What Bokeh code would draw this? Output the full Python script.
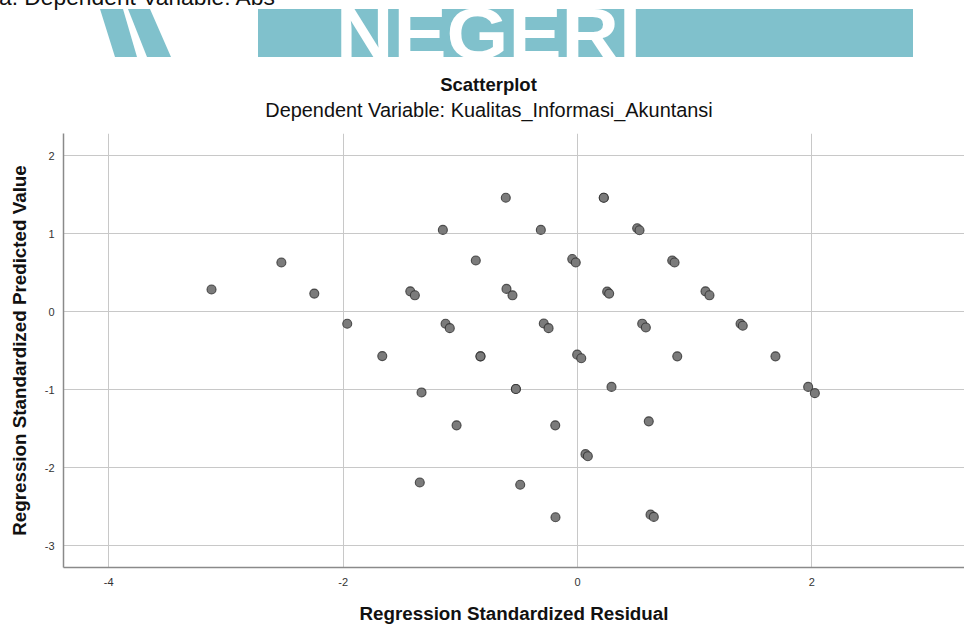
from bokeh.plotting import figure
from bokeh.models import ColumnDataSource, FixedTicker, Range1d, Div
from bokeh.layouts import column
from bokeh.embed import file_html
from bokeh.resources import INLINE

# Regression Standardized Residual (x) vs Regression Standardized Predicted Value (y)
residual = [-3.123, -2.527, -2.246, -1.965, -1.666, -1.427, -1.388, -1.331, -1.346,
            -1.149, -1.126, -1.090, -1.032, -0.868, -0.828, -0.828, -0.612, -0.606,
            -0.555, -0.526, -0.526, -0.489, -0.313, -0.288, -0.247, -0.190, -0.188,
            -0.045, -0.015, -0.003, 0.032, 0.068, 0.088, 0.224, 0.224, 0.253, 0.270,
            0.290, 0.509, 0.529, 0.552, 0.583, 0.608, 0.623, 0.651, 0.808, 0.828,
            0.851, 1.092, 1.126, 1.391, 1.410, 1.689, 1.968, 2.025]
predicted = [0.287, 0.633, 0.234, -0.153, -0.568, 0.263, 0.212, -1.034, -2.189,
             1.051, -0.153, -0.209, -1.456, 0.659, -0.571, -0.571, 1.464, 0.294,
             0.212, -0.990, -0.990, -2.218, 1.051, -0.149, -0.209, -1.456, -2.636,
             0.677, 0.633, -0.549, -0.596, -1.826, -1.852, 1.464, 1.464, 0.259, 0.234,
             -0.963, 1.073, 1.047, -0.152, -0.201, -1.405, -2.602, -2.631, 0.659, 0.633,
             -0.571, 0.263, 0.212, -0.153, -0.179, -0.571, -0.963, -1.043]

x_ticks = [-4, -2, 0, 2]
y_ticks = [-3, -2, -1, 0, 1, 2]

title_main = "Scatterplot"
title_sub = "Dependent Variable: Kualitas_Informasi_Akuntansi"
x_label = "Regression Standardized Residual"
y_label = "Regression Standardized Predicted Value"
doc_caption = "a. Dependent Variable: Abs"
banner_word = "NEGERI"

FONT = "Liberation Sans"
TEAL = "#80c1cc"

# ---------- header: document watermark banner + chart titles ----------
header_svg = f"""
<svg xmlns="http://www.w3.org/2000/svg" width="964" height="133" style="display:block;background:#ffffff">
  <text x="-1" y="5" font-family="Liberation Sans, Arial, sans-serif" font-size="22.8" fill="#111111">{doc_caption}</text>
  <polygon points="100,9 123,9 137,57 115,57" fill="{TEAL}"/>
  <polygon points="128,9 150,9 171,57 147,57" fill="{TEAL}"/>
  <svg x="258" y="9" width="655" height="48" overflow="hidden">
    <rect x="0" y="0" width="655" height="48" fill="{TEAL}"/>
    <text x="78" y="50" font-family="Liberation Sans, Arial, sans-serif" font-weight="bold"
          font-size="72" fill="#ffffff" textLength="305" lengthAdjust="spacingAndGlyphs">{banner_word}</text>
  </svg>
  <text x="488.5" y="91" text-anchor="middle" font-family="Liberation Sans, Arial, sans-serif"
        font-weight="bold" font-size="18.5" fill="#111111">{title_main}</text>
  <text x="489" y="117" text-anchor="middle" font-family="Liberation Sans, Arial, sans-serif"
        font-size="19.9" fill="#111111">{title_sub}</text>
</svg>
"""
hdr = Div(text=header_svg, width=964, height=133, margin=(0, 0, 0, 0))

# ---------- main scatterplot ----------
src = ColumnDataSource(data=dict(x=residual, y=predicted))

p = figure(width=964, height=493, x_range=Range1d(-4.386, 3.302), y_range=Range1d(-3.28, 2.288),
           output_backend="svg", toolbar_location=None,
           min_border_left=63, min_border_right=0, min_border_top=0, min_border_bottom=57)
p.outline_line_color = None
p.background_fill_color = "white"
p.border_fill_color = "white"

p.xaxis.ticker = FixedTicker(ticks=x_ticks)
p.yaxis.ticker = FixedTicker(ticks=y_ticks)
p.xaxis.major_label_overrides = {t: str(t) for t in x_ticks}
p.yaxis.major_label_overrides = {t: str(t) for t in y_ticks}
for ax in (p.xaxis[0], p.yaxis[0]):
    ax.axis_line_color = "#8a8a8a"
    ax.axis_line_width = 1.5
    ax.major_tick_line_color = None
    ax.minor_tick_line_color = None
    ax.major_label_text_font = FONT
    ax.major_label_text_font_size = "11px"
    ax.major_label_text_color = "#333333"
    ax.axis_label_text_font = FONT
    ax.axis_label_text_font_size = "18.8px"
    ax.axis_label_text_font_style = "bold"
    ax.axis_label_text_color = "#111111"
p.xaxis.axis_label = x_label
p.yaxis.axis_label = y_label
p.xaxis.major_label_standoff = 4
p.yaxis.major_label_standoff = 3
p.xaxis.axis_label_standoff = 14
p.yaxis.axis_label_standoff = 12

p.grid.grid_line_color = "#c8c8c8"
p.grid.grid_line_width = 1

p.scatter("x", "y", source=src, size=9, fill_color="#7b7b7b", line_color="#2e2e2e",
          line_width=1.1, line_alpha=0.8)

layout = column(hdr, p, spacing=0)
open("out.html", "w").write(file_html(layout, INLINE))
